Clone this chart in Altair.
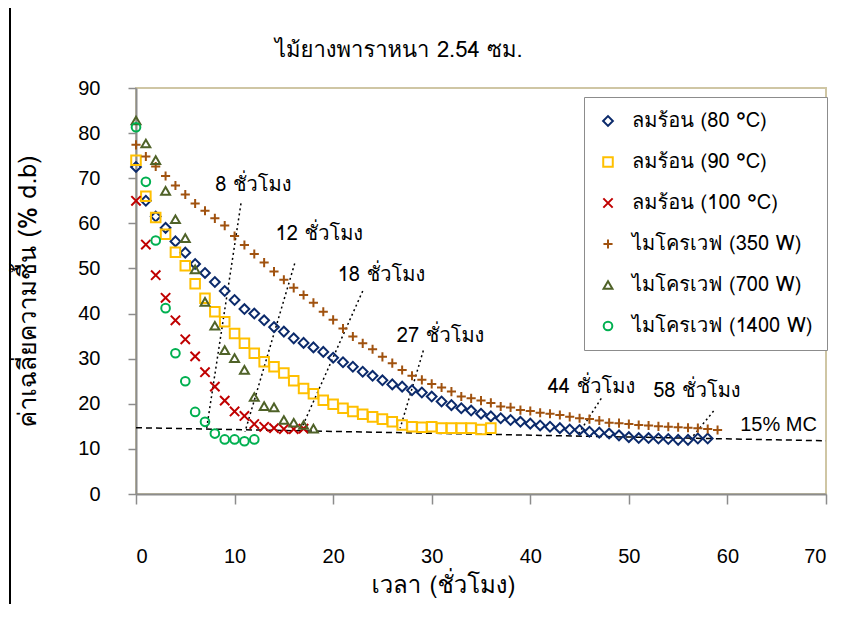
import altair as alt
import pandas as pd

# ---- data ----
series_names = ["ลมร้อน (80 °C)", "ลมร้อน (90 °C)", "ลมร้อน (100 °C)",
                "ไมโครเวฟ (350 W)", "ไมโครเวฟ (700 W)", "ไมโครเวฟ (1400 W)"]

m80 = [72.5, 65.0, 61.5, 59.0, 56.0, 53.5, 51.0, 49.0, 47.0, 45.0,
       43.0, 41.0, 40.0, 38.5, 37.0, 36.0, 34.5, 33.5, 32.5, 31.5,
       30.2, 29.2, 28.2, 27.1, 26.2, 25.2, 24.3, 23.8, 23.0, 22.5,
       21.6, 20.5, 19.7, 19.0, 18.5, 17.8, 17.2, 16.8, 16.4, 16.0,
       15.6, 15.2, 14.9, 14.6, 14.3, 14.2, 13.8, 13.6, 13.4, 13.0,
       12.6, 12.4, 12.4, 12.3, 12.2, 12.0, 12.0, 12.3, 12.3]
m90 = [74.0, 66.0, 61.3, 57.6, 53.6, 50.6, 46.6, 43.4, 40.4, 38.2,
       35.6, 33.4, 31.2, 29.3, 28.2, 26.8, 25.1, 23.4, 22.2, 20.8,
       19.9, 19.0, 18.3, 17.7, 17.1, 16.6, 16.0, 15.3, 14.9, 14.8,
       14.9, 14.6, 14.6, 14.6, 14.6, 14.3, 14.6]
m100 = [65.0, 55.3, 48.5, 43.5, 38.5, 34.3, 30.5, 27.0, 23.8, 20.7,
        18.3, 17.3, 15.5, 14.9, 14.6, 14.4, 14.4, 14.5]
m350 = [77.4, 74.8, 72.6, 70.5, 68.4, 66.4, 64.4, 62.8, 61.1, 59.5,
        57.2, 55.2, 53.2, 51.3, 49.3, 47.5, 45.7, 44.1, 42.4, 40.4,
        38.6, 36.7, 34.9, 33.4, 32.1, 30.4, 29.0, 27.5, 26.2, 25.3,
        24.4, 23.6, 22.7, 21.6, 21.2, 20.7, 20.2, 19.4, 19.2, 18.6,
        18.4, 18.0, 17.8, 17.5, 17.1, 16.8, 16.6, 16.3, 15.8, 15.7,
        15.5, 15.3, 15.2, 15.0, 14.9, 14.8, 14.7, 14.6, 14.4, 14.2]
m700 = [82.8, 77.7, 74.0, 67.2, 60.9, 56.7, 49.8, 42.6, 37.3, 31.9,
        30.1, 27.5, 21.5, 19.5, 19.2, 16.4, 15.8, 15.3, 14.5]
m1400 = [81.3, 69.2, 56.2, 41.2, 31.2, 25.0, 18.2, 16.0, 13.4, 12.1,
         12.1, 11.7, 12.1]
all_series = [m80, m90, m100, m350, m700, m1400]

colors = ["#0B2A6B", "#FFC000", "#C00000", "#A0520F", "#4F6228", "#00B050"]
shapes = ["diamond", "square", "M-1,-1L1,1M-1,1L1,-1", "M-1,0L1,0M0,-1L0,1",
          "triangle-up", "circle"]
sizes = [95, 75, 100, 110, 110, 65]

# annotations (hours labels with dotted leader lines)
ann_text = ["8 ชั่วโมง", "12 ชั่วโมง", "18 ชั่วโมง", "27 ชั่วโมง", "44 ชั่วโมง", "58 ชั่วโมง"]
ann_tx = [11.9, 18.6, 24.9, 30.9, 46.2, 56.9]
ann_ty = [68.6, 57.6, 48.5, 35.0, 23.7, 22.8]
lead_x1 = [10.65, 16.1, 23.0, 29.15, 47.2, 58.6]
lead_y1 = [64.4, 51.1, 45.0, 31.8, 21.2, 18.4]
lead_x2 = [7.17, 11.06, 16.8, 26.8, 44.7, 56.2]
lead_y2 = [14.6, 13.8, 14.6, 14.6, 12.7, 12.0]

mc_x = [0, 70]
mc_y = [14.7, 11.8]
mc_label = "15% MC"
title_text = "ไม้ยางพาราหนา 2.54 ซม."

rows = []
for name, vals in zip(series_names, all_series):
    for t, v in enumerate(vals):
        rows.append({"series": name, "t": t, "m": v})
df = pd.DataFrame(rows)

ann_df = pd.DataFrame({"text": ann_text, "tx": ann_tx, "ty": ann_ty,
                       "x1": lead_x1, "y1": lead_y1, "x2": lead_x2, "y2": lead_y2})
mc_df = pd.DataFrame({"x": [mc_x[0]], "y": [mc_y[0]], "x2": [mc_x[1]], "y2": [mc_y[1]]})
mc_lab_df = pd.DataFrame({"x": [61.3], "y": [15.4], "text": [mc_label]})
title_df = pd.DataFrame({"text": [title_text]})

FONT = "Umpush, Waree, Loma, 'Noto Sans Thai', sans-serif"
NUMFONT = "Liberation Sans, Arial, sans-serif"

xscale = alt.Scale(domain=[0, 70], nice=False)
yscale = alt.Scale(domain=[0, 90], nice=False)

points = alt.Chart(df).mark_point(filled=False, strokeWidth=2, opacity=1).encode(
    x=alt.X("t:Q", scale=xscale,
            axis=alt.Axis(values=list(range(0, 71, 10)), title="เวลา (ชั่วโมง)",
                          labelPadding=42, tickSize=10, titleX=307, titleY=91,
                          titleBaseline="middle", titleAnchor="middle", titleFontSize=24)),
    y=alt.Y("m:Q", scale=yscale,
            axis=alt.Axis(values=list(range(0, 91, 10)), title="ค่าเฉลี่ยความชื้น (% d.b)",
                          labelPadding=28, tickSize=8, titleX=-109,
                          titleBaseline="middle")),
    color=alt.Color("series:N", scale=alt.Scale(domain=series_names, range=colors),
                    sort=series_names, title=None),
    shape=alt.Shape("series:N", scale=alt.Scale(domain=series_names, range=shapes),
                    sort=series_names, title=None),
    size=alt.Size("series:N", scale=alt.Scale(domain=series_names, range=sizes),
                  sort=series_names, title=None),
)

mc_line = alt.Chart(mc_df).mark_rule(color="black", strokeWidth=1.5, strokeDash=[6, 4]).encode(
    x=alt.X("x:Q", scale=xscale), y=alt.Y("y:Q", scale=yscale),
    x2="x2:Q", y2="y2:Q")

mc_text = alt.Chart(mc_lab_df).mark_text(align="left", baseline="middle", fontSize=20,
                                          font=NUMFONT, color="black").encode(
    x=alt.X("x:Q", scale=xscale), y=alt.Y("y:Q", scale=yscale), text="text:N")

leaders = alt.Chart(ann_df).mark_rule(color="black", strokeWidth=1.5, strokeDash=[2, 3]).encode(
    x=alt.X("x1:Q", scale=xscale), y=alt.Y("y1:Q", scale=yscale),
    x2="x2:Q", y2="y2:Q")

ann_labels = alt.Chart(ann_df).mark_text(align="center", baseline="middle", fontSize=20,
                                          font=FONT, color="black").encode(
    x=alt.X("tx:Q", scale=xscale), y=alt.Y("ty:Q", scale=yscale), text="text:N")

title_mark = alt.Chart(title_df).mark_text(align="left", baseline="middle", fontSize=22,
                                            font=FONT, color="black").encode(
    x=alt.value(139), y=alt.value(-38), text="text:N")

frame_line = alt.Chart(pd.DataFrame({"k": [0]})).mark_rule(color="black", strokeWidth=2).encode(
    x=alt.value(-126), y=alt.value(-90), y2=alt.value(540))

chart = alt.layer(frame_line, mc_line, leaders, points, ann_labels, mc_text, title_mark).properties(
    width=690, height=406,
    autosize=alt.AutoSizeParams(type="none"),
    padding={"left": 128, "top": 80, "right": 23, "bottom": 110},
).configure_view(
    stroke="#CFC6A4", strokeWidth=2
).configure_axis(
    domainColor="#8C8C8C", domainWidth=2, tickColor="#8C8C8C", tickWidth=1.5,
    labelFontSize=20, labelFont=NUMFONT, labelColor="black", grid=False,
    titleFont=FONT, titleFontSize=25, titleFontWeight="normal", titleColor="black"
).configure_legend(
    orient="none", legendX=448, legendY=9, strokeColor="#8C8C8C", fillColor="white",
    padding=14, labelFontSize=20, labelFont=FONT, labelColor="black", labelLimit=400,
    symbolStrokeWidth=2, rowPadding=21, labelOffset=14, cornerRadius=0
)

chart.save("out.html", embed_options={"renderer": "svg", "actions": False})
